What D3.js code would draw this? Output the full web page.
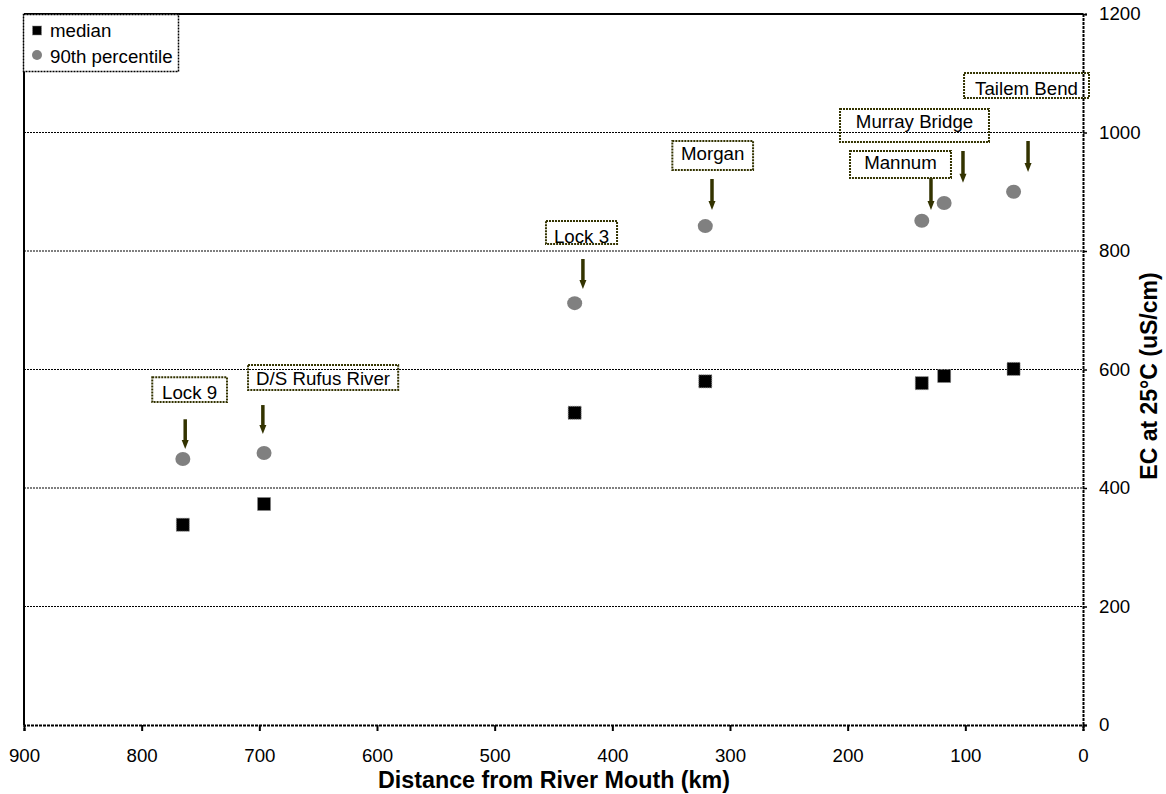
<!DOCTYPE html>
<html>
<head>
<meta charset="utf-8">
<script src="https://cdn.jsdelivr.net/npm/d3@7"></script>
<style>
  html, body { margin: 0; padding: 0; background: #fff; }
  svg { display: block; font-family: "Liberation Sans", Arial, sans-serif; }
</style>
</head>
<body>
<svg id="chart" width="1166" height="794"></svg>
<script>
// ---- data ----
const sites = ["Lock 9", "D/S Rufus River", "Lock 3", "Morgan", "Mannum", "Murray Bridge", "Tailem Bend"];
const distanceKm = [765, 696, 432, 321, 137, 118, 59];
const medianEC = [338, 373, 527, 580, 577, 589, 601];
const p90EC = [449, 459, 712, 842, 851, 881, 900];
const xTicks = [900, 800, 700, 600, 500, 400, 300, 200, 100, 0];
const yTicks = [0, 200, 400, 600, 800, 1000, 1200];
const seriesNames = ["median", "90th percentile"];
// annotation label boxes & arrows, in data units (km, EC)
const annotations = [
  { text: "Lock 9",          box: [791, 727.5, 587, 545],  base: 550,  arrow: [763, 516, 466] },
  { text: "D/S Rufus River", box: [709.6, 582, 607.6, 565.4], base: 574, arrow: [697, 540, 491] },
  { text: "Lock 3",          box: [456.4, 396, 850.6, 811.8], base: 813.5, arrow: [425, 786.5, 736] },
  { text: "Morgan",          box: [349, 280.4, 985.7, 936.7], base: 953.6, arrow: [315.3, 921.5, 869] },
  { text: "Murray Bridge",   box: [206.5, 79.9, 1039.7, 984], base: 1007.6, arrow: [102, 968.8, 915] },
  { text: "Mannum",          box: [198, 112.2, 968.8, 923.2], base: 937.6, arrow: [129.2, 923.2, 869] },
  { text: "Tailem Bend",     box: [101.1, -5.1, 1100.4, 1058.2], base: 1063.3, arrow: [46.7, 985.7, 933.3] }
];

// ---- layout ----
const svg = d3.select("#chart");
const L = 24, R = 1083, T = 14, B = 725;
const x = d3.scaleLinear().domain([900, 0]).range([L, R]);
const y = d3.scaleLinear().domain([0, 1200]).range([B, T]);
const FONT = 18.7;

// gridlines
svg.append("g").selectAll("line").data(yTicks.filter(d => d > 0 && d < 1200)).join("line")
  .attr("x1", L).attr("x2", R).attr("y1", d => y(d)).attr("y2", d => y(d))
  .attr("stroke", "#000").attr("stroke-width", 1.2).attr("stroke-dasharray", "2,1");

// frame (left & top)
svg.append("line").attr("x1", L).attr("x2", L).attr("y1", T).attr("y2", B).attr("stroke", "#000").attr("stroke-width", 2);
svg.append("line").attr("x1", L).attr("x2", R).attr("y1", T).attr("y2", T).attr("stroke", "#000").attr("stroke-width", 2);

// x axis
const xAxis = svg.append("g").attr("transform", `translate(0,${B})`)
  .call(d3.axisBottom(x).tickValues(xTicks).tickFormat(d3.format("d")).tickSize(6).tickPadding(18));
xAxis.select(".domain").attr("stroke-width", 2).attr("stroke-dasharray", "3,1");
xAxis.selectAll("text").attr("font-size", FONT).attr("font-family", "Liberation Sans, Arial, sans-serif").attr("fill", "#000");
xAxis.selectAll(".tick line").attr("stroke-width", 2);

// y axis (right)
const yAxis = svg.append("g").attr("transform", `translate(${R},0)`)
  .call(d3.axisRight(y).tickValues(yTicks).tickFormat(d3.format("d")).tickSize(4).tickPadding(12));
yAxis.select(".domain").attr("stroke-width", 2).attr("stroke-dasharray", "3,1");
yAxis.selectAll("text").attr("font-size", FONT).attr("font-family", "Liberation Sans, Arial, sans-serif").attr("fill", "#000");
yAxis.selectAll(".tick line").attr("stroke-width", 1.5);

// axis titles
svg.append("text").attr("x", 554).attr("y", 788).attr("text-anchor", "middle")
  .attr("font-size", 23.3).attr("font-weight", "bold").text("Distance from River Mouth (km)");
svg.append("text").attr("transform", `translate(1157,${376}) rotate(-90)`).attr("text-anchor", "middle")
  .attr("font-size", 23).attr("font-weight", "bold").text("EC at 25°C (uS/cm)");

// annotation boxes, text, arrows
const olive = "#333300";
const ann = svg.append("g");
ann.selectAll("rect").data(annotations).join("rect")
  .attr("x", d => x(d.box[0])).attr("y", d => y(d.box[2]))
  .attr("width", d => x(d.box[1]) - x(d.box[0])).attr("height", d => y(d.box[3]) - y(d.box[2]))
  .attr("fill", "none").attr("stroke", olive).attr("stroke-width", 2).attr("stroke-dasharray", "2,1");
ann.selectAll("text").data(annotations).join("text")
  .attr("x", d => (x(d.box[0]) + x(d.box[1])) / 2).attr("y", d => y(d.base))
  .attr("text-anchor", "middle").attr("font-size", FONT).attr("fill", "#000").text(d => d.text);
ann.selectAll("line").data(annotations).join("line")
  .attr("x1", d => x(d.arrow[0])).attr("x2", d => x(d.arrow[0]))
  .attr("y1", d => y(d.arrow[1])).attr("y2", d => y(d.arrow[2]) - 7)
  .attr("stroke", olive).attr("stroke-width", 3.5);
ann.selectAll("path").data(annotations).join("path")
  .attr("d", d => {
    const ax = x(d.arrow[0]), ay = y(d.arrow[2]);
    return `M${ax - 3.5},${ay - 9}L${ax + 3.5},${ay - 9}L${ax},${ay}Z`;
  })
  .attr("fill", olive);

// data points
const pts = distanceKm.map((km, i) => ({ km, med: medianEC[i], p90: p90EC[i] }));
svg.append("g").selectAll("ellipse").data(pts).join("ellipse")
  .attr("cx", d => x(d.km)).attr("cy", d => y(d.p90)).attr("rx", 7.5).attr("ry", 7)
  .attr("fill", "#808080");
svg.append("g").selectAll("rect").data(pts).join("rect")
  .attr("x", d => x(d.km) - 6.5).attr("y", d => y(d.med) - 6.5).attr("width", 13).attr("height", 13)
  .attr("fill", "#000").attr("stroke", "#888").attr("stroke-width", 1).attr("stroke-dasharray", "1,1");

// legend
const lg = svg.append("g");
lg.append("rect").attr("x", 23.5).attr("y", 14.5).attr("width", 155).attr("height", 57)
  .attr("fill", "#fff").attr("stroke", "#000").attr("stroke-width", 1.5).attr("stroke-dasharray", "2,1");
lg.append("rect").attr("x", 32.5).attr("y", 26).attr("width", 9).attr("height", 9)
  .attr("fill", "#000").attr("stroke", "#888").attr("stroke-width", 1).attr("stroke-dasharray", "1,1");
lg.append("circle").attr("cx", 37).attr("cy", 55).attr("r", 5).attr("fill", "#808080");
lg.selectAll("text").data(seriesNames).join("text")
  .attr("x", 50).attr("y", (d, i) => 37 + i * 26).attr("font-size", FONT).attr("fill", "#000").text(d => d);
</script>
</body>
</html>
